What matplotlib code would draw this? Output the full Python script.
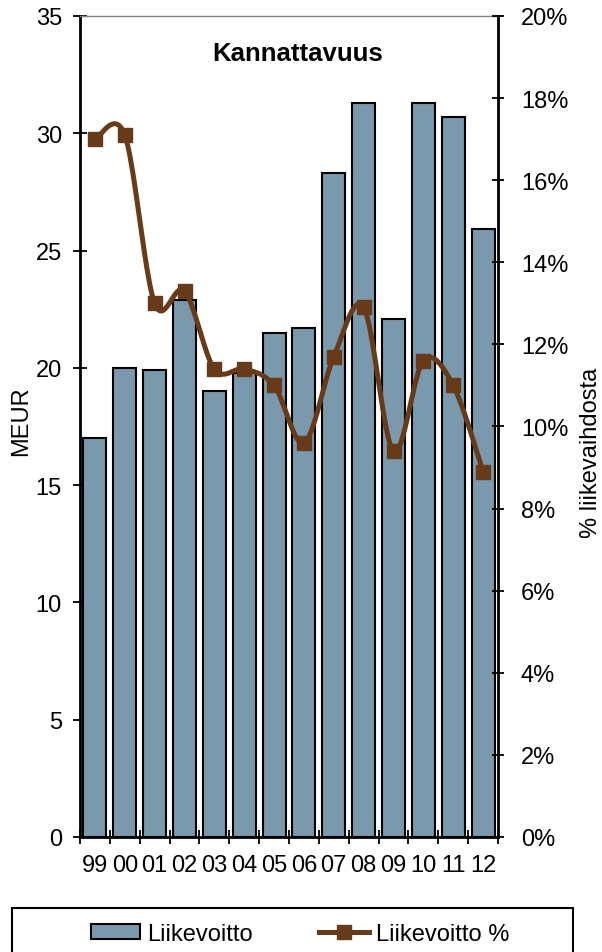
import numpy as np
import matplotlib
matplotlib.use("Agg")
import matplotlib.pyplot as plt
import matplotlib.ticker as ticker
from matplotlib.patches import Patch, Rectangle
from matplotlib.lines import Line2D

plt.rcParams["font.family"] = ["Liberation Sans", "DejaVu Sans"]

# ── Data ──────────────────────────────────────────────────────────────────────
years = ["99", "00", "01", "02", "03", "04", "05", "06", "07", "08", "09", "10", "11", "12"]
liikevoitto = [17.0, 20.0, 19.9, 22.9, 19.0, 19.8, 21.5, 21.7, 28.3, 31.3, 22.1, 31.3, 30.7, 25.9]
liikevoitto_pct = [17.0, 17.1, 13.0, 13.3, 11.4, 11.4, 11.0, 9.6, 11.7, 12.9, 9.4, 11.6, 11.0, 8.9]

BAR_COLOR = "#7B99AD"
LINE_COLOR = "#673A19"
FS = 17
W, H = 602, 953


def smooth(x, y, n=24):
    # Excel-style smoothed line (Bezier through points, 1/6 control offsets)
    pts = np.column_stack([x, y]).astype(float)
    p = np.vstack([pts[0], pts, pts[-1]])
    t = np.linspace(0, 1, n)[:, None]
    segs = []
    for i in range(1, len(p) - 2):
        p0, p1, p2, p3 = p[i - 1], p[i], p[i + 1], p[i + 2]
        c1 = p1 + (p2 - p0) / 6
        c2 = p2 - (p3 - p1) / 6
        segs.append((1 - t) ** 3 * p1 + 3 * (1 - t) ** 2 * t * c1
                    + 3 * (1 - t) * t ** 2 * c2 + t ** 3 * p2)
    return np.vstack(segs)


fig = plt.figure(figsize=(W / 100, H / 100), dpi=100)
ax = fig.add_axes([80 / W, 1 - 838 / H, 418 / W, 821 / H])

x = np.arange(len(years))
ax.bar(x, liikevoitto, width=0.77, color=BAR_COLOR, edgecolor="black", linewidth=1.5, zorder=2)
ax.set_xlim(-0.5, len(years) - 0.5)
ax.set_ylim(0, 35)
ax.yaxis.set_major_locator(ticker.MultipleLocator(5))

# x: ticks at category boundaries, labels at centres
ax.set_xticks(np.arange(-0.5, len(years)), labels=[""] * (len(years) + 1))
ax.set_xticks(x, labels=years, minor=True)
ax.tick_params(axis="x", which="major", direction="inout", length=10, width=1.3, color="black")
ax.tick_params(axis="x", which="minor", length=0, pad=12, labelsize=FS)
ax.tick_params(axis="y", direction="inout", length=10, width=1.3, pad=8, labelsize=FS)

for side in ["left", "bottom"]:
    ax.spines[side].set_linewidth(2)
ax.spines["top"].set_color("#808080")
ax.spines["top"].set_linewidth(1)
ax.spines["right"].set_visible(False)

ax2 = ax.twinx()
ax2.set_ylim(0, 20)
ax2.yaxis.set_major_locator(ticker.MultipleLocator(2))
ax2.yaxis.set_major_formatter(ticker.FormatStrFormatter("%d%%"))
ax2.tick_params(axis="y", direction="inout", length=9, width=1.3, pad=12, labelsize=FS)
for side in ["left", "bottom", "top"]:
    ax2.spines[side].set_visible(False)
ax2.spines["right"].set_linewidth(2)

curve = smooth(x, liikevoitto_pct)
ax2.plot(curve[:, 0], curve[:, 1], color=LINE_COLOR, linewidth=3.6, solid_capstyle="round", zorder=3)
ax2.plot(x, liikevoitto_pct, linestyle="none", marker="s", markersize=9.5,
         color=LINE_COLOR, zorder=4)

ax.text(0.52, 0.955, "Kannattavuus", transform=ax.transAxes, ha="center", va="center",
        fontsize=18.5, fontweight="bold")

fig.text(21 / W, 1 - 421 / H, "MEUR", rotation=90, ha="center", va="center", fontsize=FS)
fig.text(591 / W, 1 - 453 / H, "% liikevaihdosta", rotation=90, ha="center", va="center",
         fontsize=FS)

# ── Legend ────────────────────────────────────────────────────────────────────
fig.patches.append(Rectangle((11.7 / W, 1 - 965 / H), (573 - 11.7) / W, (965 - 909) / H,
                             transform=fig.transFigure, fill=False, edgecolor="black",
                             linewidth=1.5))
handles = [
    Patch(facecolor=BAR_COLOR, edgecolor="black", linewidth=1.5),
    Line2D([], [], color=LINE_COLOR, linewidth=3.6, marker="s", markersize=9.5),
]
fig.legend(handles, ["Liikevoitto", "Liikevoitto %"], loc="center",
           bbox_to_anchor=(300 / W, 1 - 935 / H), ncol=2, frameon=False, fontsize=FS,
           handlelength=2.1, handletextpad=0.3, columnspacing=2.8, handleheight=0.6)

plt.savefig("out.png", dpi=100)
